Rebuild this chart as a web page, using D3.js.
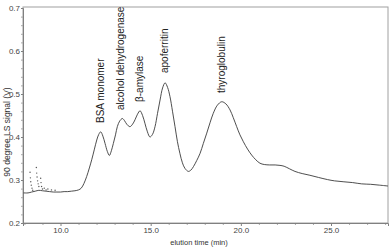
<!DOCTYPE html>
<html><head><meta charset="utf-8">
<script src="https://cdn.jsdelivr.net/npm/d3@7"></script>
<style>
html,body{margin:0;padding:0;background:#fff;}
svg{display:block;font-family:"Liberation Sans",Arial,sans-serif;}
</style></head>
<body><svg id="c" width="392" height="252"></svg>
<script>
// elution time (min)
const times = [7.95,8.2,8.4,8.6,8.8,9.0,9.2,9.4,9.6,9.8,10.0,10.2,10.4,10.6,10.8,11.0,11.15,11.3,11.45,11.6,11.73,11.87,12.01,12.12,12.23,12.35,12.47,12.6,12.71,12.82,12.93,13.05,13.15,13.28,13.43,13.55,13.67,13.85,14.0,14.13,14.27,14.41,14.55,14.68,14.82,14.96,15.1,15.24,15.38,15.52,15.66,15.8,15.94,16.07,16.21,16.35,16.48,16.62,16.76,16.9,17.09,17.23,17.37,17.55,17.74,17.92,18.11,18.29,18.47,18.7,18.94,19.17,19.4,19.58,19.77,19.95,20.14,20.37,20.6,20.83,21.06,21.3,21.6,21.9,22.17,22.4,22.7,23.0,23.4,23.83,24.3,24.8,25.2,25.67,26.2,26.7,27.2,27.7,28.16];
// 90 degree LS signal (V)
const signal = [0.270,0.270,0.272,0.274,0.276,0.275,0.274,0.273,0.272,0.272,0.272,0.273,0.273,0.274,0.275,0.277,0.281,0.292,0.308,0.328,0.347,0.370,0.393,0.406,0.412,0.402,0.385,0.366,0.357,0.368,0.385,0.405,0.424,0.437,0.443,0.438,0.430,0.424,0.430,0.440,0.453,0.461,0.450,0.432,0.412,0.400,0.406,0.424,0.455,0.486,0.514,0.526,0.515,0.494,0.460,0.424,0.390,0.362,0.340,0.327,0.320,0.323,0.331,0.345,0.362,0.385,0.409,0.433,0.455,0.474,0.482,0.477,0.463,0.445,0.424,0.405,0.389,0.372,0.358,0.347,0.339,0.336,0.335,0.335,0.334,0.332,0.326,0.320,0.315,0.311,0.306,0.301,0.298,0.296,0.294,0.291,0.290,0.288,0.286];
// scattered early noise points
const noiseTimes = [8.31,8.33,8.35,8.38,8.42,8.46,8.66,8.68,8.70,8.73,8.76,8.80,8.90,8.92,8.95,9.0,9.1,9.2,9.3,9.5,9.7];
const noiseSignal = [0.318,0.305,0.296,0.288,0.281,0.276,0.329,0.316,0.307,0.298,0.291,0.285,0.304,0.294,0.285,0.279,0.281,0.277,0.279,0.277,0.276];
// peak labels
const peakNames = ["BSA monomer","alcohol dehydrogenase","\u03B2-amylase","apoferritin","thyroglobulin"];
const peakTimes = [12.19,13.30,14.37,15.76,18.90];
const peakLabelBase = [0.4326,0.4628,0.4814,0.5488,0.5023];
const xTicks = [10,15,20,25];
const yTicks = [0.2,0.3,0.4,0.5,0.6,0.7];

const svg = d3.select("#c");
const L=23, R=388, T=8, B=223;
const FONT = "'Liberation Sans', Arial, sans-serif";
const x = d3.scaleLinear().domain([7.92,28.16]).range([L,R]);
const y = d3.scaleLinear().domain([0.2,0.7]).range([B,T]);

// frame
svg.append("rect").attr("x",L).attr("y",T-1).attr("width",R-L).attr("height",B-T+1)
  .attr("fill","none").attr("stroke","#a0a0a0").attr("stroke-width",1);

// minor ticks
const xMinor = d3.range(8,28.5,1).filter(v=>!xTicks.includes(v));
const yMinor = d3.range(0.22,0.7,0.02).filter(v=>Math.abs(v*10-Math.round(v*10))>0.01);
svg.append("g").attr("transform",`translate(0,${B})`)
  .call(d3.axisBottom(x).tickValues(xMinor).tickSize(2).tickFormat(""))
  .call(g=>{g.select(".domain").remove();g.selectAll("line").attr("stroke","#aaa");});
svg.append("g").attr("transform",`translate(${L},0)`)
  .call(d3.axisLeft(y).tickValues(yMinor).tickSize(2).tickFormat(""))
  .call(g=>{g.select(".domain").remove();g.selectAll("line").attr("stroke","#aaa");});

// major axes
svg.append("g").attr("transform",`translate(0,${B})`)
  .call(d3.axisBottom(x).tickValues(xTicks).tickSize(3).tickPadding(1).tickFormat(d3.format(".1f")))
  .call(g=>{g.select(".domain").attr("stroke","#808080");g.selectAll("line").attr("stroke","#808080");
    g.selectAll("text").attr("font-size",8).attr("fill","#444").attr("font-family",FONT);});
svg.append("g").attr("transform",`translate(${L},0)`)
  .call(d3.axisLeft(y).tickValues(yTicks).tickSize(2).tickPadding(1).tickFormat(d3.format(".1f")))
  .call(g=>{g.select(".domain").attr("stroke","#808080");g.selectAll("line").attr("stroke","#808080");
    g.selectAll("text").attr("font-size",8).attr("fill","#444").attr("font-family",FONT);});

// axis titles
svg.append("text").attr("x",199).attr("y",245).attr("text-anchor","middle")
  .attr("font-family",FONT).attr("font-size",7.5).attr("fill","#333").text("elution time (min)");
svg.append("text").attr("transform","translate(10,132) rotate(-90)").attr("text-anchor","middle")
  .attr("font-family",FONT).attr("font-size",8.5).attr("fill","#333").text("90 degree LS signal (V)");

// data line
const pts = times.map((t,i)=>[t,signal[i]]);
svg.append("path").datum(pts)
  .attr("d",d3.line().x(d=>x(d[0])).y(d=>y(d[1])).curve(d3.curveCatmullRom))
  .attr("fill","none").attr("stroke","#3a3a3a").attr("stroke-width",0.9);

// noise dots
svg.append("g").selectAll("circle").data(noiseTimes.map((t,i)=>[t,noiseSignal[i]]))
  .join("circle").attr("cx",d=>x(d[0])).attr("cy",d=>y(d[1])).attr("r",0.7).attr("fill","#555");

// peak labels
svg.append("g").selectAll("text").data(peakNames).join("text")
  .attr("transform",(d,i)=>`translate(${x(peakTimes[i])+3.6},${y(peakLabelBase[i])}) rotate(-90)`)
  .attr("font-family",FONT).attr("font-size",10).attr("fill","#222").text(d=>d);
</script></body></html>
